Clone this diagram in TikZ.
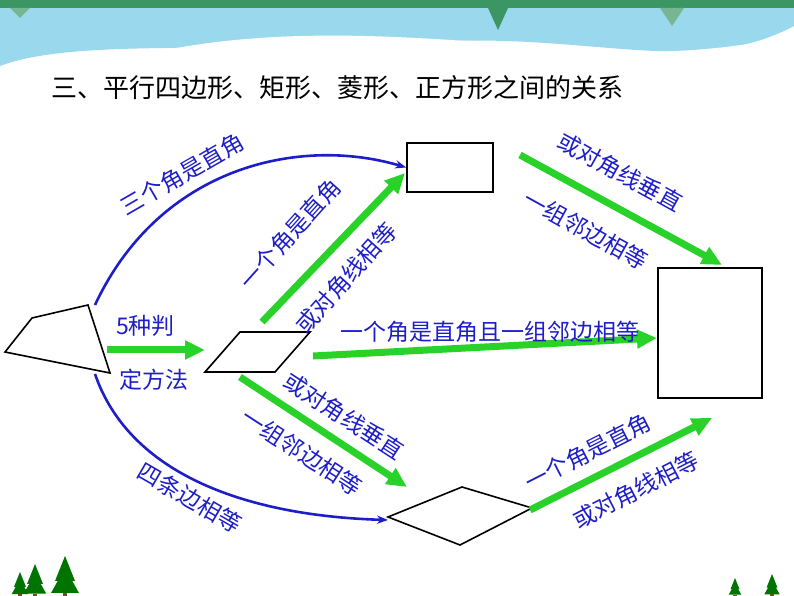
\documentclass[tikz,border=0pt]{standalone}
\usepackage{fontspec}
\setmainfont{Noto Sans CJK SC}
\usetikzlibrary{arrows.meta, calc}
\definecolor{txtblue}{RGB}{30,30,200}
\definecolor{arrgreen}{RGB}{40,210,40}
\definecolor{bandgreen}{RGB}{60,150,100}
\definecolor{skyblue}{RGB}{110,200,230}
\tikzset{
  shapebox/.style={draw=black, line width=1.6pt, fill=white},
  greenarrow/.style={draw=arrgreen, line width=7pt, -{Triangle[length=20pt,width=18pt]}},
  bluearrow/.style={draw=txtblue, line width=2.6pt, -{Stealth[length=11pt]}},
  lbl/.style={text=txtblue, font=\fontsize{23}{23}\selectfont, inner sep=1pt},
  tree/.style={fill=green!45!black}
}
\begin{document}
\begin{tikzpicture}[x=1pt,y=1pt]
\useasboundingbox (0,0) rectangle (794,596);
% banner
\fill[skyblue!70] (0,596) -- (794,596) -- (794,570) .. controls (700,520) and (600,560) .. (450,555) .. controls (250,540) and (80,560) .. (0,530) -- cycle;
\fill[white] (100,530) .. controls (250,575) and (400,560) .. (560,548) .. controls (650,540) and (720,545) .. (794,560) -- (794,540) .. controls (650,525) and (350,560) .. (100,530);
\fill[bandgreen] (0,596) rectangle (794,588);
\fill[bandgreen!70] (10,588) -- (20,578) -- (30,588) -- cycle;
\fill[bandgreen!70] (660,588) -- (672,570) -- (684,588) -- cycle;
\fill[bandgreen] (488,588) -- (498,566) -- (508,588) -- cycle;
% title
\node[font=\fontsize{26}{26}\selectfont, anchor=west] (title) at (48,508) {三、平行四边形、矩形、菱形、正方形之间的关系};
% shapes
\filldraw[shapebox] (5,244) -- (32,278) -- (88,291) -- (110,223) -- cycle;
\coordinate (quadtop) at (95,291);
\coordinate (quadbot) at (95,222);
\filldraw[shapebox] (205,224) -- (240,264) -- (310,264) -- (275,224) -- cycle;
\node[shapebox, minimum width=86pt, minimum height=49pt] (rect) at (450,428.5) {};
\node[shapebox, minimum width=104pt, minimum height=130pt] (square) at (710,263) {};
\filldraw[shapebox] (388,79) -- (462,109) -- (532,88) -- (460,51) -- cycle;
\coordinate (rhleft) at (388,76);
% green arrows
\draw[greenarrow] (107,246) -- (205,246);
\draw[greenarrow] (262,274) -- (405,423);
\draw[greenarrow] (313,240) -- (657,258);
\draw[greenarrow] (240,219) -- (407,109);
\draw[greenarrow] (520,441) -- (722,331);
\draw[greenarrow] (530,86) -- (712,178);
% blue curves
\draw[bluearrow] (quadtop) .. controls (160,430) and (300,460) .. (rect.west);
\draw[bluearrow] (quadbot) .. controls (130,120) and (250,80) .. (rhleft);
% labels
\node[lbl, rotate=30] (l1) at (182,422) {三个角是直角};
\node[lbl, rotate=48] (l2) at (290,362) {一个角是直角};
\node[lbl, rotate=48] (l3) at (346,318) {或对角线相等};
\node[lbl] (l4) at (490,264) {一个角是直角且一组邻边相等};
\node[lbl, anchor=west] (l5) at (115,270) {5种判};
\node[lbl, anchor=west] (l6) at (118,216) {定方法};
\node[lbl, rotate=-29] (l7) at (620,424) {或对角线垂直};
\node[lbl, rotate=-29] (l8) at (586,366) {一组邻边相等};
\node[lbl, rotate=-33] (l9) at (344,180) {或对角线垂直};
\node[lbl, rotate=-33] (l10) at (302,144) {一组邻边相等};
\node[lbl, rotate=-30] (l11) at (190,98) {四条边相等};
\node[lbl, rotate=27] (l12) at (588,144) {一个角是直角};
\node[lbl, rotate=27] (l13) at (636,106) {或对角线相等};
% trees
\foreach \tx/\ts in {35/0.8, 65/1, 20/0.6, 735/0.45, 772/0.55}{
  \fill[tree] (\tx-10*\ts,15*\ts) -- (\tx,40*\ts) -- (\tx+10*\ts,15*\ts) -- cycle;
  \fill[tree] (\tx-14*\ts,3*\ts) -- (\tx,28*\ts) -- (\tx+14*\ts,3*\ts) -- cycle;
  \fill[brown!60!black] (\tx-2,0) rectangle (\tx+2,3*\ts);
}
\end{tikzpicture}
\end{document}
